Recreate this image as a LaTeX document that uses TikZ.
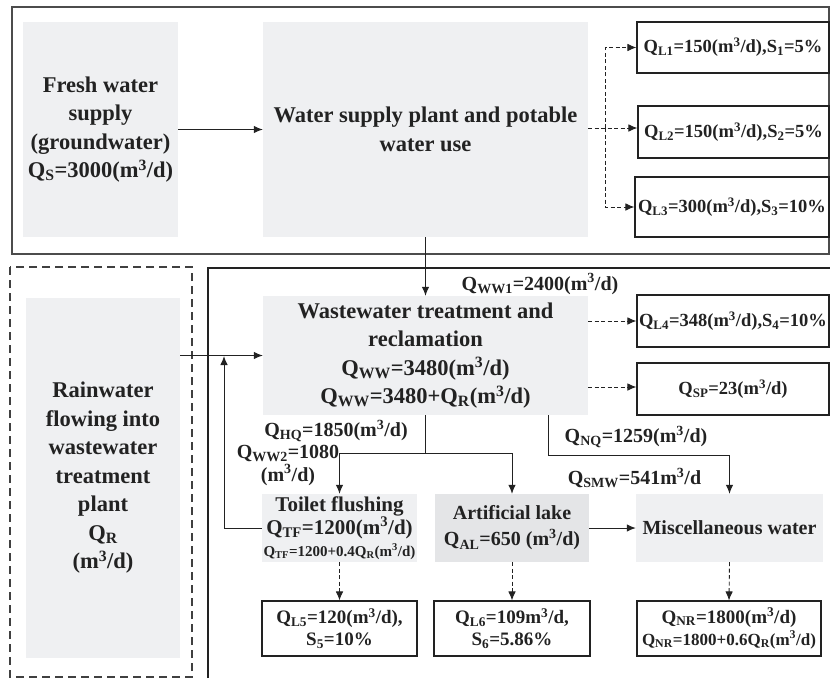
\documentclass[tikz,border=0pt]{standalone}
\usepackage{fontspec}
\setmainfont{Liberation Serif}
\usetikzlibrary{arrows.meta}
\definecolor{boxgray}{HTML}{EFF0F2}
\definecolor{algray}{HTML}{E4E5E7}
\definecolor{ink}{HTML}{222222}
\newcommand\Q[1]{Q\textsubscript{#1}}
\newcommand\mcd{(m\textsuperscript{3}/d)}
\begin{document}
\begin{tikzpicture}[x=1pt,y=-1pt,
  >={Latex[length=9pt,width=7.5pt]},
  gbox/.style={fill=boxgray, inner sep=0pt, align=center, text=ink},
  wbox/.style={draw=ink, line width=1.1pt, fill=white, inner sep=0pt, align=center, text=ink},
  flow/.style={->, draw=ink, line width=1pt},
  dflow/.style={->, draw=ink, line width=0.9pt, dash pattern=on 4pt off 2.5pt},
  big/.style={font=\fontsize{22.5}{28.5}\selectfont\bfseries},
  mid/.style={font=\fontsize{18.5}{22}\selectfont\bfseries},
  low/.style={font=\fontsize{19}{22}\selectfont\bfseries},
  lab/.style={font=\fontsize{20}{23}\selectfont\bfseries, inner sep=0pt, align=center, text=ink}]
\useasboundingbox (0,0) rectangle (830,678);
% frames
\draw[black!70, line width=1.3pt] (12,7) rectangle (829,254);
\draw[black!75, line width=1.1pt, dash pattern=on 8pt off 5pt] (10,267) rectangle (192,677);
\draw[ink, line width=1.1pt] (208,678) -- (208,268) -- (830,268);
% top part
\node[gbox,big,minimum width=155,minimum height=215] (fresh) at (100.5,129.5) {Fresh water\\supply\\(groundwater)\\\Q{S}=3000\mcd};
\node[gbox,big,minimum width=325,minimum height=215] (wsp) at (425.5,129.5) {Water supply plant and potable\\water use};
\node[wbox,mid,minimum width=192,minimum height=51] (L1) at (733,47.5) {\Q{L1}=150\mcd,S\textsubscript{1}=5\%};
\node[wbox,mid,minimum width=191,minimum height=52] (L2) at (733.5,132) {\Q{L2}=150\mcd,S\textsubscript{2}=5\%};
\node[wbox,mid,minimum width=194,minimum height=60] (L3) at (732,207) {\Q{L3}=300\mcd,S\textsubscript{3}=10\%};
% lower part
\node[gbox,big,minimum width=154,minimum height=360] (rain) at (103,478) {Rainwater\\flowing into\\wastewater\\treatment\\plant\\\Q{R}\\\mcd};
\node[gbox,big,minimum width=325,minimum height=119] (ww) at (425.5,355.5) {Wastewater treatment and\\reclamation\\\Q{WW}=3480\mcd\\\Q{WW}=3480+\Q{R}\mcd};
\node[wbox,mid,minimum width=192,minimum height=52] (L4) at (733,321) {\Q{L4}=348\mcd,S\textsubscript{4}=10\%};
\node[wbox,mid,minimum width=192,minimum height=52] (SP) at (733,389) {\Q{SP}=23\mcd};
\node[gbox,font=\fontsize{21}{21.5}\selectfont\bfseries,minimum width=155,minimum height=68] (toilet) at (339.5,528) {Toilet flushing\\\Q{TF}=1200\mcd\\{\fontsize{15}{17}\selectfont\Q{TF}=1200+0.4\Q{R}\mcd}};
\node[gbox,fill=algray,font=\fontsize{20}{26}\selectfont\bfseries,minimum width=154,minimum height=68] (al) at (512,528) {Artificial lake\\\Q{AL}=650 \mcd};
\node[gbox,font=\fontsize{20}{26}\selectfont\bfseries,minimum width=187,minimum height=68] (misc) at (729.5,528) {Miscellaneous water};
\node[wbox,low,minimum width=155,minimum height=55] (L5) at (339.5,628.5) {\Q{L5}=120\mcd,\\S\textsubscript{5}=10\%};
\node[wbox,low,minimum width=156,minimum height=55] (L6) at (512,628.5) {\Q{L6}=109m\textsuperscript{3}/d,\\S\textsubscript{6}=5.86\%};
\node[wbox,low,minimum width=184,minimum height=55] (NR) at (729,628.5) {\Q{NR}=1800\mcd\\{\fontsize{17}{20}\selectfont\Q{NR}=1800+0.6\Q{R}\mcd}};
% labels
\node[lab] (lww1) at (540,284) {\Q{WW1}=2400\mcd};
\node[lab] (lhq) at (336,431) {\Q{HQ}=1850\mcd};
\node[lab] (lww2) at (288,465) {\Q{WW2}=1080\\\mcd};
\node[lab] (lnq) at (636,437) {\Q{NQ}=1259\mcd};
\node[lab] (lsmw) at (634.5,478) {\Q{SMW}=541m\textsuperscript{3}/d};
% coordinates
\coordinate (j1) at (605,128);
\coordinate (jb) at (425.5,453.5);
\coordinate (jc) at (548,455.5);
\coordinate (loop) at (224,356);
% connectors top
\draw[flow] (fresh) -- (wsp);
\draw[dflow] (wsp.east |- j1) -- (L2.west |- j1);
\draw[dflow] (j1) |- (L1.west);
\draw[dflow] (j1) |- (L3.west);
\draw[flow] (wsp.south) -- (ww.north);
% connectors lower
\draw[flow] (rain.east |- ww.west) -- (ww.west);
\draw[flow] (toilet.west) -| (loop);
\draw[dflow] (ww.east |- L4.west) -- (L4.west);
\draw[dflow] (ww.east |- 0,387) -- (SP.west |- 0,387);
\draw[flow] (ww.south) -- (jb) -| (toilet.north);
\draw[flow] (jb) -| (al.north);
\draw[flow] (ww.south -| jc) -- (jc) -| (misc.north);
\draw[flow] (al) -- (misc);
\draw[dflow] (toilet.south) -- (L5.north);
\draw[dflow] (al.south) -- (L6.north);
\draw[dflow] (misc.south) -- (NR.north);
\end{tikzpicture}
\end{document}
